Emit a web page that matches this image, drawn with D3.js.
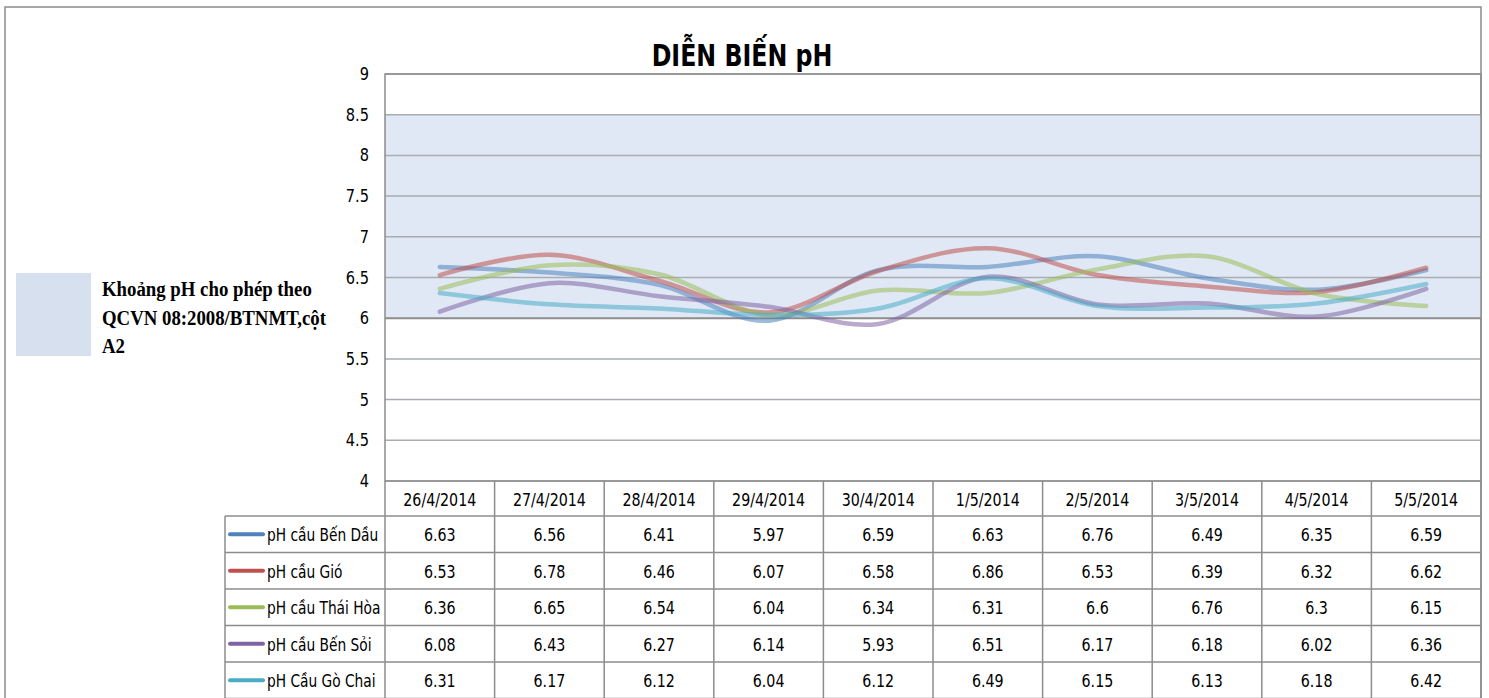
<html>
<head>
  <meta charset="utf-8">
  <script src="https://d3js.org/d3.v7.min.js"></script>
  <style>
    body { margin: 0; background: #fff; }
    .num { font-family: "DejaVu Sans Condensed", "DejaVu Sans", sans-serif; }
  </style>
  <script>
    var dates = ["26/4/2014", "27/4/2014", "28/4/2014", "29/4/2014", "30/4/2014",
                 "1/5/2014", "2/5/2014", "3/5/2014", "4/5/2014", "5/5/2014"];
    var seriesNames = ["pH cầu Bến Dầu", "pH cầu Gió", "pH cầu Thái Hòa", "pH cầu Bến Sỏi", "pH Cầu Gò Chai"];
    var benDau  = [6.63, 6.56, 6.41, 5.97, 6.59, 6.63, 6.76, 6.49, 6.35, 6.59];
    var gio     = [6.53, 6.78, 6.46, 6.07, 6.58, 6.86, 6.53, 6.39, 6.32, 6.62];
    var thaiHoa = [6.36, 6.65, 6.54, 6.04, 6.34, 6.31, 6.6, 6.76, 6.3, 6.15];
    var benSoi  = [6.08, 6.43, 6.27, 6.14, 5.93, 6.51, 6.17, 6.18, 6.02, 6.36];
    var goChai  = [6.31, 6.17, 6.12, 6.04, 6.12, 6.49, 6.15, 6.13, 6.18, 6.42];
    var yTicks  = [4, 4.5, 5, 5.5, 6, 6.5, 7, 7.5, 8, 8.5, 9];
    var band    = [6, 8.5];
    var colors  = ["#4f81bd", "#c0504d", "#9bbb59", "#8064a2", "#4bacc6"];

    // squeeze text horizontally, like the narrow fonts in the original
    function at(px, py, sx) {
      return "translate(" + px + "," + py + ") scale(" + sx + ",1)";
    }

    function draw() {
      var values = [benDau, gio, thaiHoa, benSoi, goChai];
      var svg = d3.select("#chart");

      svg.append("rect").attr("x", 5).attr("y", 7).attr("width", 1476).attr("height", 700)
        .attr("fill", "none").attr("stroke", "#8c8c8c").attr("stroke-width", 1.5);

      var x = d3.scaleBand().domain(dates).range([385, 1481]);
      var y = d3.scaleLinear().domain([4, 9]).range([481, 74]);
      var cx = d => x(d) + x.bandwidth() / 2;

      // allowed band
      svg.append("rect").attr("x", 385).attr("y", y(band[1]))
        .attr("width", 1096).attr("height", y(band[0]) - y(band[1]))
        .attr("fill", "#dfe8f4");

      svg.append("g").selectAll("line").data(yTicks).enter().append("line")
        .attr("x1", 385).attr("x2", 1481)
        .attr("y1", d => y(d)).attr("y2", d => y(d))
        .attr("stroke", d => d == band[0] ? "#8c8c8c" : "#a9acb1")
        .attr("stroke-width", d => d == band[0] ? 2 : 1.5);

      svg.append("rect").attr("x", 385).attr("y", 74).attr("width", 1096).attr("height", 407)
        .attr("fill", "none").attr("stroke", "#8c8c8c").attr("stroke-width", 1.5);

      svg.append("g").selectAll("text").data(yTicks).enter().append("text")
        .attr("class", "num")
        .attr("transform", d => at(369, y(d) + 6, 0.9))
        .attr("text-anchor", "end").attr("font-size", 18).attr("fill", "#000")
        .text(d => d);

      var line = d3.line()
        .x((d, i) => cx(dates[i]))
        .y(d => y(d))
        .curve(d3.curveCatmullRom.alpha(0));
      svg.append("g").selectAll("path").data(values).enter().append("path")
        .attr("d", line)
        .attr("fill", "none")
        .attr("stroke", (d, i) => colors[i])
        .attr("stroke-opacity", 0.55)
        .attr("stroke-width", 4.5)
        .attr("stroke-linecap", "round");

      // title
      svg.append("text").attr("transform", at(742, 66, 0.85))
        .attr("text-anchor", "middle")
        .attr("font-family", "'DejaVu Sans Condensed', 'DejaVu Sans', sans-serif")
        .attr("font-weight", "bold").attr("font-size", 31)
        .text("DIỄN BIẾN pH");

      // band legend
      svg.append("rect").attr("x", 16).attr("y", 273).attr("width", 75).attr("height", 83)
        .attr("fill", "#d6e0ef");
      var legendLines = ["Khoảng pH cho phép theo", "QCVN 08:2008/BTNMT,cột", "A2"];
      svg.append("g").selectAll("text").data(legendLines).enter().append("text")
        .attr("transform", (d, i) => at(102, 296 + i * 28.5, 0.94))
        .attr("font-family", "'Liberation Serif', serif")
        .attr("font-weight", "bold").attr("font-size", 20)
        .text(d => d);

      // data table
      var headY = 481, headH = 35, rowH = 36.5;
      var tbl = svg.append("g").attr("stroke", "#8c8c8c").attr("stroke-width", 1.5);
      dates.forEach(function (d) {
        tbl.append("line").attr("x1", x(d)).attr("x2", x(d)).attr("y1", headY).attr("y2", 698);
      });
      tbl.append("line").attr("x1", 1481).attr("x2", 1481).attr("y1", headY).attr("y2", 698);
      tbl.append("line").attr("x1", 225).attr("x2", 225).attr("y1", headY + headH).attr("y2", 698);
      for (var r = 0; r <= seriesNames.length; r++) {
        tbl.append("line").attr("x1", 225).attr("x2", 1481)
          .attr("y1", headY + headH + r * rowH).attr("y2", headY + headH + r * rowH);
      }

      svg.append("g").selectAll("text").data(dates).enter().append("text")
        .attr("class", "num")
        .attr("transform", d => at(cx(d), headY + 25, 0.88))
        .attr("text-anchor", "middle").attr("font-size", 18)
        .text(d => d);

      var rows = svg.append("g").selectAll("g").data(values).enter().append("g")
        .attr("transform", (d, i) => "translate(0," + (headY + headH + i * rowH) + ")");
      rows.append("line").attr("x1", 230).attr("x2", 263)
        .attr("y1", rowH / 2).attr("y2", rowH / 2)
        .attr("stroke", (d, i) => colors[i]).attr("stroke-width", 4).attr("stroke-linecap", "round");
      rows.append("text").attr("class", "num")
        .attr("transform", at(267, rowH / 2 + 7, 0.85)).attr("font-size", 18)
        .text((d, i) => seriesNames[i]);
      rows.selectAll("text.v").data(d => d).enter().append("text")
        .attr("class", "num v")
        .attr("transform", (d, i) => at(cx(dates[i]), rowH / 2 + 7, 0.88))
        .attr("text-anchor", "middle").attr("font-size", 18)
        .text(d => d);
    }
  </script>
</head>
<body onload="draw()">
  <svg id="chart" width="1489" height="698"></svg>
</body>
</html>
